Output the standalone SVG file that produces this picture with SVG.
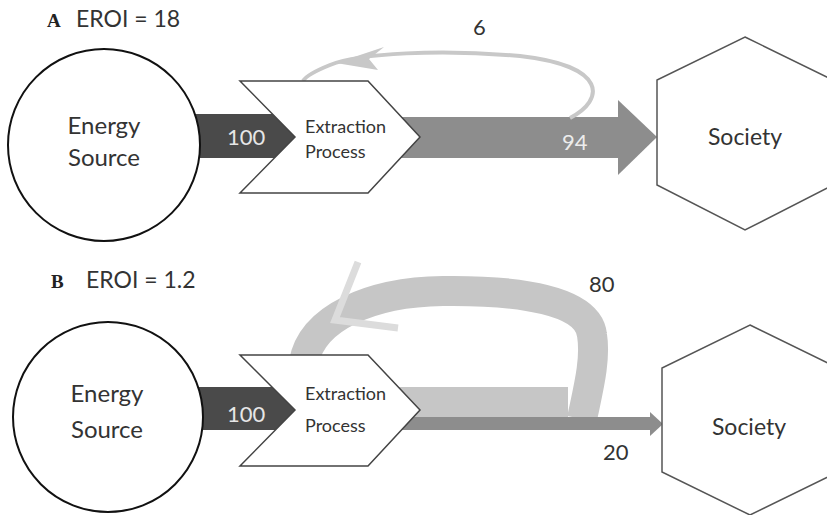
<svg xmlns="http://www.w3.org/2000/svg" width="827" height="515" viewBox="0 0 827 515">
<style>
.t{font-family:Lato,"Open Sans","Liberation Sans",sans-serif;fill:#333}
.lbl{font-family:"Liberation Serif",serif;font-weight:bold;font-size:19px;fill:#222}
.src{fill:#fff;stroke:#111;stroke-width:2}
.chev{fill:#fff;stroke:#444;stroke-width:1.5}
.hex{fill:#fff;stroke:#555;stroke-width:1.5}
.dark{fill:#4a4a4a}
.mid{fill:#8d8d8d}
.light{fill:#c6c6c6}
</style>
<rect width="827" height="515" fill="#fff"/>
<g id="titles">
<text class="lbl" x="47" y="27">A</text>
<text class="t" x="76" y="27" font-size="23">EROI = 18</text>
<text class="lbl" x="51" y="288">B</text>
<text class="t" x="86" y="288" font-size="23">EROI = 1.2</text>
</g>
<g id="connectors">
<!-- Panel A -->
<rect class="dark" x="195" y="114" width="110" height="44"/>
<rect class="mid" x="390" y="117" width="230" height="41"/>
<polygon class="mid" points="618,100 657,137 618,175"/>
<path d="M570 118 C605 100,608 66,520 56 C440 49,360 53,330 65 C315 71,306 76,303 81" fill="none" stroke="#c8c8c8" stroke-width="4"/>
<polygon points="336,63 384,47 369,59 378,70" fill="#c8c8c8"/>
<!-- Panel B -->
<rect class="dark" x="195" y="387" width="110" height="43"/>
<rect class="light" x="390" y="387" width="178" height="31"/>
<path d="M582 419 C588 390,596 360,592 335 C588 300,520 290,443 291 C370 292,312 318,304 362" fill="none" stroke="#c6c6c6" stroke-width="30"/>
<polyline points="358,262 335,320 398,328" fill="none" stroke="#dcdcdc" stroke-width="7"/>
<rect class="mid" x="390" y="417" width="262" height="13"/>
<polygon class="mid" points="650,412 663,424 650,436"/>
</g>
<g id="labels">
<text class="t" x="227" y="145" font-size="22" style="fill:#e6e6e6">100</text>
<text class="t" x="562" y="150" font-size="22" style="fill:#ececec">94</text>
<text class="t" x="473" y="35" font-size="22">6</text>
<text class="t" x="227" y="422" font-size="22" style="fill:#e6e6e6">100</text>
<text class="t" x="589" y="292" font-size="22">80</text>
<text class="t" x="603" y="460" font-size="22">20</text>
</g>
<g id="source-a">
<circle class="src" cx="104" cy="145" r="96"/>
<text class="t" x="104" y="134" font-size="24" text-anchor="middle">Energy</text>
<text class="t" x="104" y="166" font-size="24" text-anchor="middle">Source</text>
</g>
<g id="extraction-a">
<polygon class="chev" points="240,81 368,81 420,137 368,193 240,193 295,137"/>
<text class="t" x="305" y="133" font-size="18">Extraction</text>
<text class="t" x="305" y="158" font-size="18">Process</text>
</g>
<g id="society-a">
<polygon class="hex" points="745,37 833,80 833,185 745,230 657,185 657,80"/>
<text class="t" x="745" y="145" font-size="23" text-anchor="middle">Society</text>
</g>
<g id="source-b">
<circle class="src" cx="108" cy="417" r="95"/>
<text class="t" x="107" y="402" font-size="24" text-anchor="middle">Energy</text>
<text class="t" x="107" y="438" font-size="24" text-anchor="middle">Source</text>
</g>
<g id="extraction-b">
<polygon class="chev" points="240,355 368,355 420,410 368,466 240,466 295,410"/>
<text class="t" x="305" y="400" font-size="18">Extraction</text>
<text class="t" x="305" y="432" font-size="18">Process</text>
</g>
<g id="society-b">
<polygon class="hex" points="750,325 838,368 838,472 750,515 662,472 662,368"/>
<text class="t" x="749" y="435" font-size="23" text-anchor="middle">Society</text>
</g>
</svg>
